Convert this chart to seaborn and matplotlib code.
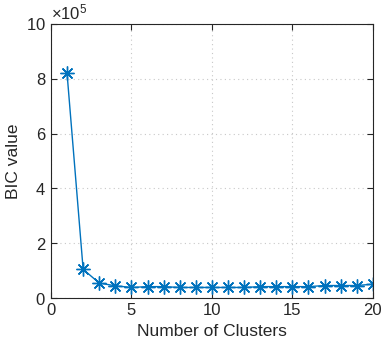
"""BIC value versus number of clusters (elbow chart)."""

import matplotlib

matplotlib.use("Agg")
import matplotlib.pyplot as plt
from matplotlib.ticker import ScalarFormatter
import pandas as pd
import seaborn as sns

n_clusters = list(range(1, 21))
bic_values = [
    8.2e5, 1.05e5, 0.55e5, 0.45e5, 0.39e5, 0.42e5, 0.42e5, 0.39e5, 0.39e5, 0.39e5,
    0.39e5, 0.39e5, 0.42e5, 0.42e5, 0.42e5, 0.42e5, 0.46e5, 0.46e5, 0.46e5, 0.51e5,
]

LINE_COLOR = "#0072BD"

sns.set_style("ticks")
plt.rcParams["font.family"] = ["Liberation Sans", "DejaVu Sans"]
plt.rcParams["mathtext.fontset"] = "custom"
plt.rcParams["mathtext.rm"] = "Liberation Sans"

data = pd.DataFrame({"clusters": n_clusters, "bic": bic_values})

fig = plt.figure(figsize=(3.86, 3.52), dpi=100)
ax = fig.add_axes([0.132, 0.153, 0.834, 0.779])

sns.lineplot(
    data=data,
    x="clusters",
    y="bic",
    ax=ax,
    color=LINE_COLOR,
    linewidth=1.0,
    marker=(8, 2, 0),
    markersize=10,
    markeredgewidth=1.0,
    markeredgecolor=LINE_COLOR,
)

ax.set_xlim(0, 20)
ax.set_ylim(0, 10e5)
ax.set_xticks([0, 5, 10, 15, 20])
ax.set_yticks([0, 2e5, 4e5, 6e5, 8e5, 10e5])

fmt = ScalarFormatter(useMathText=True)
fmt.set_powerlimits((5, 5))
ax.yaxis.set_major_formatter(fmt)
ax.yaxis.get_offset_text().set_fontsize(12)
ax.yaxis.get_offset_text().set_color("#262626")

ax.set_xlabel("Number of Clusters", fontsize=12.5, color="#262626")
ax.set_ylabel("BIC value", fontsize=12.5, color="#262626")

ax.grid(True, linestyle=(0, (1, 3)), color="#c8c8c8", linewidth=0.8)
ax.tick_params(direction="in", top=True, right=True, labelsize=12,
               colors="#262626", length=4, width=0.8)
for spine in ax.spines.values():
    spine.set_visible(True)
    spine.set_color("#262626")
    spine.set_linewidth(0.8)

fig.savefig("out.png", dpi=100)
plt.close(fig)
